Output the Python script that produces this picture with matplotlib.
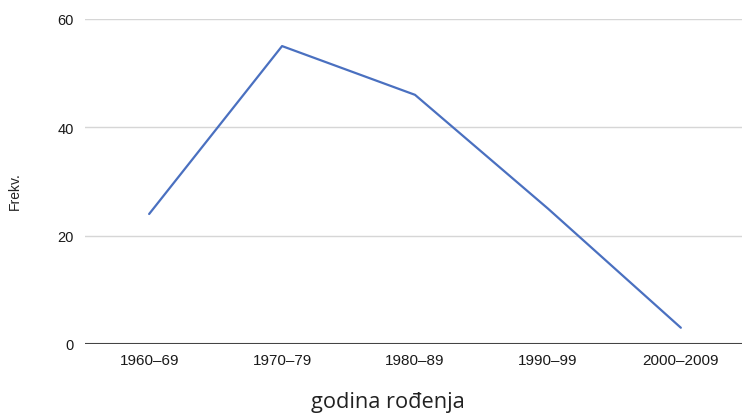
import matplotlib.pyplot as plt
from matplotlib import font_manager

# data
categories = ['1960–69', '1970–79', '1980–89', '1990–99', '2000–2009']
freq = [24, 55, 46, 25, 3]
yticks = [0, 20, 40, 60]

# pick the regular (not narrow) Liberation Sans file
lib = [f.fname for f in font_manager.fontManager.ttflist
       if 'LiberationSans-Regular' in f.fname]
if lib:
    tickfont = font_manager.FontProperties(fname=lib[0])
else:
    tickfont = font_manager.FontProperties(family='DejaVu Sans')

fig = plt.figure(figsize=(7.42, 4.14), dpi=100)
ax = fig.add_axes([0.115, 0.1667, 0.885, 0.785])

x = list(range(len(categories)))
ax.plot(x, freq, color='#4a70c0', lw=1.6, solid_capstyle='round', zorder=3)

ax.set_xlim(-0.48, 4.46)
ax.set_ylim(0, 60)
ax.set_xticks(x)
ax.set_xticklabels(categories)
ax.set_yticks(yticks)

for s in ax.spines.values():
    s.set_visible(False)
ax.grid(axis='y', color='#d6d6d6', lw=1)
ax.axhline(0, color='#444444', lw=1.5, zorder=2)
ax.tick_params(length=0, colors='#1a1a1a')
ax.tick_params(axis='y', pad=8.5)
ax.tick_params(axis='x', pad=6.5)
for lab in ax.get_yticklabels():
    lab.set_fontproperties(tickfont)
    lab.set_fontsize(10.5)
for lab in ax.get_xticklabels():
    lab.set_fontproperties(tickfont)
    lab.set_fontsize(11)

# axis titles placed as in the original
fig.text(0.0202, 0.539, 'Frekv.', fontproperties=tickfont, fontsize=10, color='#222222',
         rotation=90, ha='center', va='center')
fig.text(0.523, 0.0145, 'godina rođenja', fontsize=15.7, family=['Open Sans', 'DejaVu Sans'],
         color='#222222', ha='center', va='baseline')

fig.savefig('out.png', dpi=100)
